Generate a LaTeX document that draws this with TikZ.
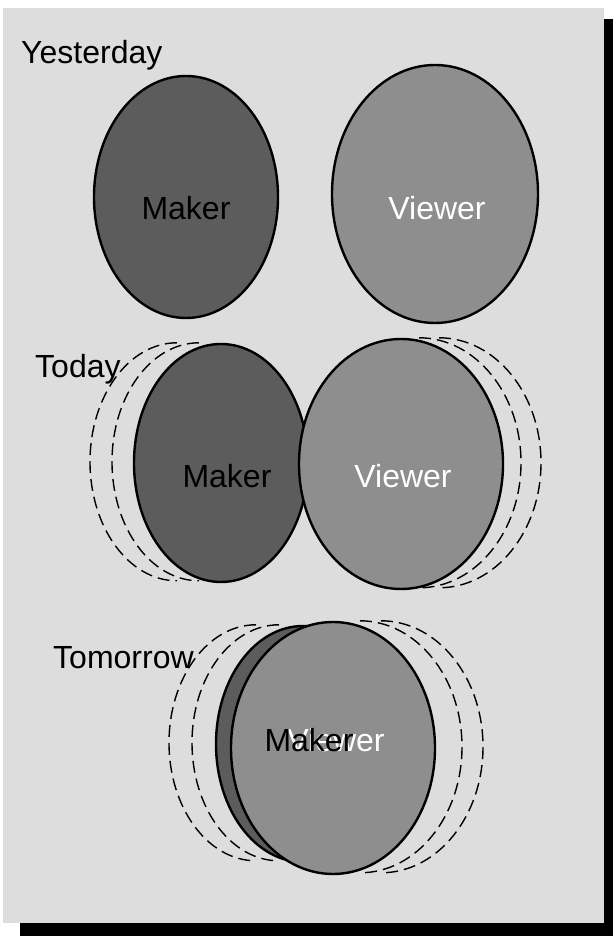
\documentclass[tikz,border=0pt]{standalone}
\usepackage{fontspec}
\setmainfont{Liberation Sans}
\usetikzlibrary{shapes.geometric, backgrounds}
\definecolor{paper}{HTML}{DDDDDD}
\definecolor{makerfill}{HTML}{5C5C5C}
\definecolor{viewerfill}{HTML}{8E8E8E}

\begin{document}
\begin{tikzpicture}[x=1pt, y=1pt,
  blob/.style={ellipse, draw=black, line width=2.4pt, inner sep=0pt},
  makerblob/.style={blob, fill=makerfill},
  viewerblob/.style={blob, fill=viewerfill},
  era/.style={font=\fontsize{32}{36}\selectfont, anchor=base west, inner sep=0pt},
  tag/.style={font=\fontsize{32}{36}\selectfont, inner sep=0pt},
  motion/.style={line width=1.4pt, dash pattern=on 12pt off 6pt}
]
\useasboundingbox (0,0) rectangle (613,936);
% Sheet with its drop shadow
\begin{scope}[on background layer]
  \fill[black] (20,0) rectangle (613,917);
  \fill[paper] (3,13) rectangle (604,928);
\end{scope}

% Yesterday
\node[era] (yest) at (21,872) {Yesterday};
\node[makerblob, minimum width=184pt, minimum height=242pt] (ymaker) at (186,739) {};
\node[viewerblob, minimum width=206pt, minimum height=258pt] (yviewer) at (435,742) {};
\node[tag] (ymakertag) at (186,728) {Maker};
\node[tag, text=white] (yviewertag) at (437,728) {Viewer};

% Today
\node[era] (today) at (35,558) {Today};
\node[makerblob, minimum width=174pt, minimum height=238pt] (tmaker) at (221,473) {};
\node[viewerblob, minimum width=204pt, minimum height=250pt] (tviewer) at (401,472) {};
\node[tag] (tmakertag) at (227,460) {Maker};
\node[tag, text=white] (tviewertag) at (403,460) {Viewer};
\begin{scope}[on background layer]
  \foreach \d in {22,44}
    \draw[motion] ([xshift=-\d pt]tmaker.north) arc[start angle=90, end angle=270, x radius=87pt, y radius=119pt];
  \foreach \d in {18,38}
    \draw[motion] ([xshift=\d pt]tviewer.north) arc[start angle=90, end angle=-90, x radius=102pt, y radius=125pt];
\end{scope}

% Tomorrow
\node[era] (tomorrow) at (53,267) {Tomorrow};
\node[makerblob, minimum width=174pt, minimum height=236pt] (mmaker) at (303,192) {};
\node[viewerblob, minimum width=204pt, minimum height=252pt] (mviewer) at (333,188) {};
\node[tag, text=white] (mviewertag) at (336,196) {Viewer};
\node[tag] (mmakertag) at (309,196) {Maker};
\begin{scope}[on background layer]
  \foreach \d in {24,47}
    \draw[motion] ([xshift=-\d pt]mmaker.north) arc[start angle=90, end angle=270, x radius=87pt, y radius=118pt];
  \foreach \d in {27,48}
    \draw[motion] ([xshift=\d pt]mviewer.north) arc[start angle=90, end angle=-90, x radius=102pt, y radius=126pt];
\end{scope}
\end{tikzpicture}
\end{document}
